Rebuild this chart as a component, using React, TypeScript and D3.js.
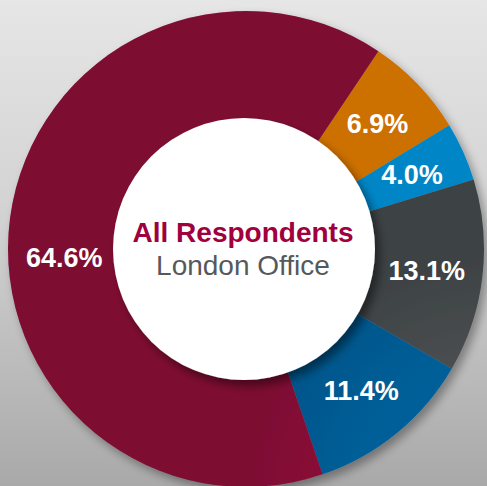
import React from "react";
import * as d3 from "d3";

const categories = ["Segment A", "Segment B", "Segment C", "Segment D", "Segment E"];
const values = [6.9, 4.0, 13.1, 11.4, 64.6];
const labels = ["6.9%", "4.0%", "13.1%", "11.4%", "64.6%"];
const colorsLight = ["#e88600", "#0096d8", "#4a4f51", "#005f98", "#900b39"];
const colorsDark = ["#cc7000", "#0086c6", "#3e4244", "#00558a", "#7e0833"];
const labelAngleShift = [0, 0, 0, 0, -10];

const W = 487;
const H = 486;
const cx = 246;
const cy = 249;
const outerR = 238;
const innerR = 131;

export default function App() {
  const pie = d3
    .pie<number>()
    .sort(null)
    .value((d) => d)
    .startAngle((33.8 * Math.PI) / 180)
    .endAngle((33.8 * Math.PI) / 180 + 2 * Math.PI);
  const arcs = pie(values);
  const arc = d3.arc<d3.PieArcDatum<number>>().innerRadius(innerR - 5).outerRadius(outerR);
  const labelArc = d3.arc<any>().innerRadius(182).outerRadius(182);

  return (
    <div style={{ position: "absolute", left: 0, top: 0 }}>
      <svg width={W} height={H} style={{ display: "block" }}>
        <defs>
          <linearGradient id="bg" x1="0" y1="0" x2="0" y2="1">
            <stop offset="0" stopColor="#e6e6e6" />
            <stop offset="0.45" stopColor="#d2d2d2" />
            <stop offset="1" stopColor="#a9a9a9" />
          </linearGradient>
          {categories.map((c, i) => (
            <radialGradient
              key={c}
              id={`g${i}`}
              gradientUnits="userSpaceOnUse"
              cx={cx}
              cy={cy}
              r={outerR}
            >
              <stop offset="0.55" stopColor={colorsLight[i]} />
              <stop offset="1" stopColor={colorsDark[i]} />
            </radialGradient>
          ))}
          <filter id="shadow" x="-20%" y="-20%" width="140%" height="140%">
            <feGaussianBlur in="SourceAlpha" stdDeviation="5" />
            <feOffset dx="4" dy="5" result="b" />
            <feComponentTransfer>
              <feFuncA type="linear" slope="0.35" />
            </feComponentTransfer>
            <feMerge>
              <feMergeNode />
              <feMergeNode in="SourceGraphic" />
            </feMerge>
          </filter>
          <filter id="ishadow" x="-30%" y="-30%" width="160%" height="160%">
            <feGaussianBlur in="SourceAlpha" stdDeviation="5" />
            <feOffset dx="5" dy="6" result="b" />
            <feComponentTransfer>
              <feFuncA type="linear" slope="0.45" />
            </feComponentTransfer>
            <feMerge>
              <feMergeNode />
              <feMergeNode in="SourceGraphic" />
            </feMerge>
          </filter>
        </defs>
        <rect x={0} y={0} width={W} height={H} fill="url(#bg)" />
        <g transform={`translate(${cx},${cy})`}>
          <g filter="url(#shadow)">
            {arcs.map((a, i) => (
              <path key={categories[i]} d={arc(a) || ""} fill={`url(#g${i})`} />
            ))}
          </g>
          <circle cx={-2} cy={0} r={innerR} fill="#ffffff" filter="url(#ishadow)" />
          {arcs.map((a, i) => {
            const shift = (labelAngleShift[i] * Math.PI) / 180;
            const [lx, ly] = labelArc.centroid({
              startAngle: a.startAngle + shift,
              endAngle: a.endAngle + shift,
            });
            return (
              <text
                key={labels[i]}
                x={lx}
                y={ly}
                dy="0.36em"
                textAnchor="middle"
                fill="#ffffff"
                fontFamily="Liberation Sans, Arial, sans-serif"
                fontWeight="bold"
                fontSize={27}
              >
                {labels[i]}
              </text>
            );
          })}
          <text
            x={-3}
            y={-7}
            textAnchor="middle"
            fill="#a0003d"
            fontFamily="Liberation Sans, Arial, sans-serif"
            fontWeight="bold"
            fontSize={28}
          >
            All Respondents
          </text>
          <text
            x={-3}
            y={26}
            textAnchor="middle"
            fill="#55595c"
            fontFamily="Liberation Sans, Arial, sans-serif"
            fontSize={28}
          >
            London Office
          </text>
        </g>
      </svg>
    </div>
  );
}
